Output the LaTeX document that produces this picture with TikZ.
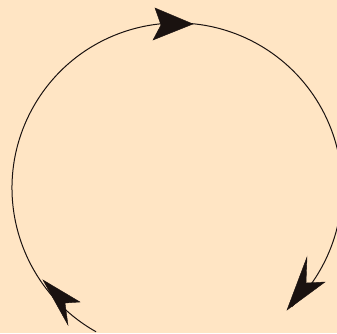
\documentclass[tikz,border=0pt]{standalone}
\usepackage{tikz}
\definecolor{bg}{HTML}{FFE5C4}
\definecolor{ink}{HTML}{1A1210}
\tikzset{
  arc line/.style={draw=ink, line width=1pt},
  arrowhead/.style={fill=ink, draw=ink, line width=0.4pt, line join=miter}
}
\begin{document}
\begin{tikzpicture}[x=1pt,y=-1pt]
  \fill[bg] (0,0) rectangle (337,333);
  \useasboundingbox (0,0) rectangle (337,333);
  \coordinate (c) at (177,188);
  % clockwise arc (angles increase clockwise since y is flipped)
  \draw[arc line] (c) ++(119.4:165) arc[start angle=119.4, end angle=406, radius=165];
  % top arrowhead
  \filldraw[arrowhead] (193,24) -- (155,8) -- (161,25) -- (153,40) -- cycle;
  % bottom-right arrowhead
  \filldraw[arrowhead] (287,310) -- (307,257) -- (306,283) -- (325,282) -- cycle;
  % bottom-left arrowhead
  \filldraw[arrowhead] (43,280) -- (80,302) -- (65,303) -- (68,325) -- cycle;
\end{tikzpicture}
\end{document}
